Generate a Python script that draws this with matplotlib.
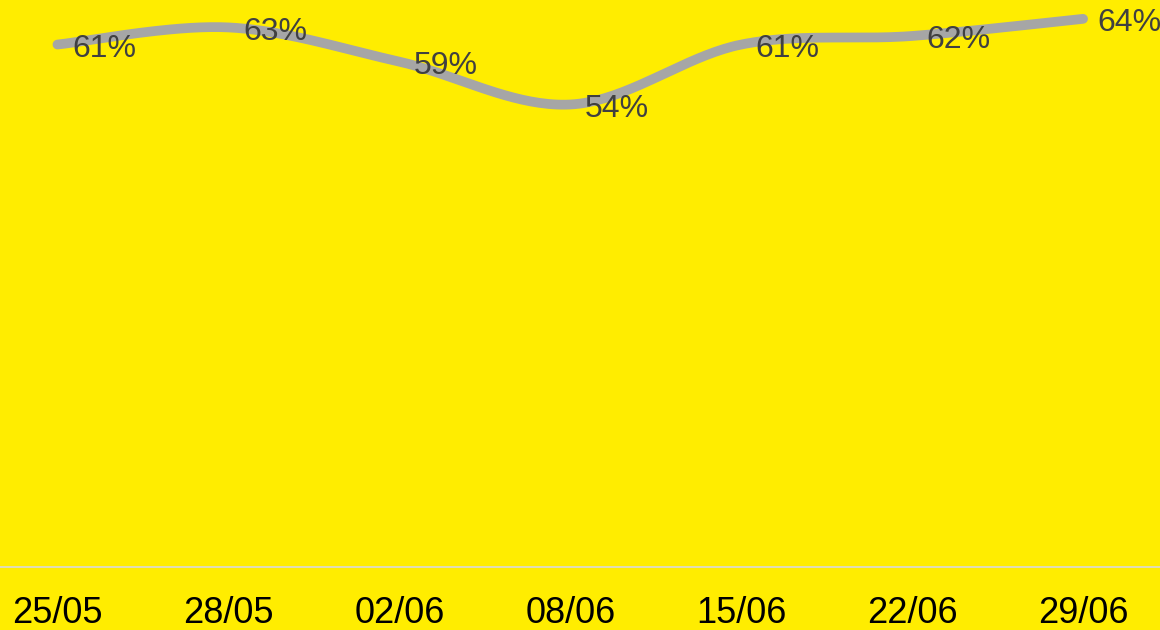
import matplotlib.pyplot as plt
import numpy as np

dates = ["25/05", "28/05", "02/06", "08/06", "15/06", "22/06", "29/06"]
values = [61, 63, 59, 54, 61, 62, 64]

plt.rcParams['font.family'] = ['Liberation Sans', 'DejaVu Sans']
bg = "#FFED00"


def smooth(x, y, n=40, tension=0.5):
    # cardinal spline through the points, just for drawing the curve
    x = np.asarray(x, float)
    y = np.asarray(y, float)
    px = np.concatenate([[x[0]], x, [x[-1]]])
    py = np.concatenate([[y[0]], y, [y[-1]]])
    xs, ys = [], []
    t = np.linspace(0, 1, n)
    h00 = 2 * t**3 - 3 * t**2 + 1
    h10 = t**3 - 2 * t**2 + t
    h01 = -2 * t**3 + 3 * t**2
    h11 = t**3 - t**2
    for i in range(1, len(px) - 2):
        mx0 = tension * (px[i + 1] - px[i - 1])
        my0 = tension * (py[i + 1] - py[i - 1])
        mx1 = tension * (px[i + 2] - px[i])
        my1 = tension * (py[i + 2] - py[i])
        xs.append(h00 * px[i] + h10 * mx0 + h01 * px[i + 1] + h11 * mx1)
        ys.append(h00 * py[i] + h10 * my0 + h01 * py[i + 1] + h11 * my1)
    return np.concatenate(xs), np.concatenate(ys)


fig = plt.figure(figsize=(11.6, 6.3), dpi=100, facecolor=bg)
ax = fig.add_axes([0.0, 0.1, 1.0, 0.9], facecolor=bg)

x = np.arange(len(dates))
sx, sy = smooth(x, values)
ax.plot(sx, sy, color="#A6A6A6", lw=7, solid_capstyle="round")

for xi, v in zip(x, values):
    ax.annotate(f"{v}%", (xi, v), xytext=(10.5, -3), textcoords="offset points",
                ha="left", va="center", fontsize=23, color="#404040")

ax.set_xlim(-0.336, 6.45)
ax.set_ylim(0, 66.2)
ax.set_xticks(x)
ax.set_xticklabels(dates, fontsize=26, color="black")
ax.tick_params(axis="x", length=0, pad=21)
ax.set_yticks([])
for s in ["top", "left", "right"]:
    ax.spines[s].set_visible(False)
ax.spines["bottom"].set_color("#D9D9D9")
ax.spines["bottom"].set_linewidth(1.2)

fig.savefig("out.png", facecolor=bg)
